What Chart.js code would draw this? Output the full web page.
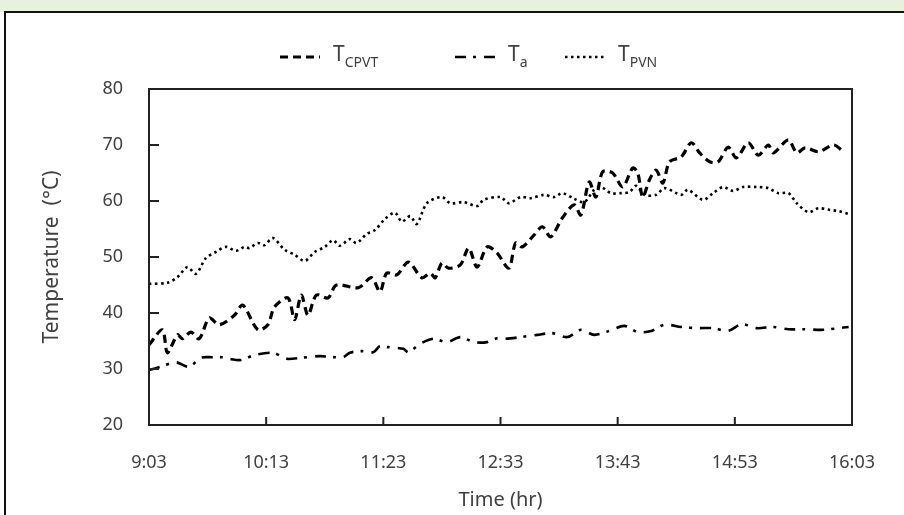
<!DOCTYPE html>
<html>
<head>
<meta charset="utf-8">
<script src="https://cdn.jsdelivr.net/npm/chart.js@4.4.0/dist/chart.umd.min.js"></script>
<style>
html,body{margin:0;padding:0;background:#fff}
</style>
</head>
<body>
<canvas id="grafTemp" width="904" height="515"></canvas>
<script>
// minutes after 9:03
let xTickLabels = ['9:03','10:13','11:23','12:33','13:43','14:53','16:03']
let yTicks = [20,30,40,50,60,70,80]

let timeCPVT = [0,8,11,17,20,25,30,36,42,51,56,65,71,75,83,87,91,95,100,107,112,125,133,138,142,148,155,163,168,171,175,179,186,191,196,202,208,215,219,223,230,235,240,247,254,258,263,267,271,277,283,289,292,295,299,303,307,311,318,324,329,335,340,346,351,358,364,370,373,382,387,392,400,409,415]
let tempCPVT = [34.3,37.0,32.9,36.1,35.4,36.6,35.4,39.1,37.9,39.6,41.4,37.0,37.9,41.1,42.7,38.8,43.2,39.6,43.2,42.7,45.0,44.5,46.3,43.8,47.1,46.8,49.1,46.3,47.1,46.3,48.9,48.0,48.6,51.6,48.2,51.8,50.7,48.0,52.5,51.8,53.9,55.4,53.6,57.0,59.3,57.5,63.4,60.7,65.2,65.0,62.5,65.9,65.0,60.7,63.8,65.5,63.2,67.0,67.9,70.4,68.6,67.0,67.0,69.6,67.7,70.4,68.2,70.0,68.6,70.9,68.6,69.5,68.8,70.0,68.8]

let timeA = [0,7,16,24,31,38,44,48,55,63,74,80,83,91,102,111,116,120,127,134,138,143,152,155,162,170,178,186,194,202,208,213,222,232,241,250,258,266,275,284,292,300,308,318,328,337,346,354,363,373,382,391,403,412,418]
let tempA = [29.8,30.4,31.2,30.4,32.0,32.1,32.1,31.8,31.6,32.5,32.9,32.1,31.8,32.0,32.3,32.1,32.1,32.9,33.2,33.0,34.1,33.9,33.6,33.0,34.5,35.4,34.8,35.7,34.8,34.8,35.5,35.4,35.7,36.1,36.4,35.7,37.0,36.1,36.8,37.7,36.6,36.8,37.9,37.5,37.3,37.3,36.8,38.0,37.3,37.5,37.1,37.1,37.0,37.3,37.5]

let timePVN = [0,11,17,23,28,34,40,46,52,57,60,65,69,74,81,87,93,99,105,110,114,120,124,130,135,141,147,151,156,160,166,175,180,188,196,200,210,215,222,228,236,242,247,254,260,266,270,276,282,287,291,296,303,308,318,322,331,337,343,349,355,363,370,376,382,387,394,400,407,412,418]
let tempPVN = [45.2,45.4,46.4,48.2,47.0,49.8,50.9,51.8,51.1,51.8,51.6,52.5,52.1,53.4,51.3,50.4,49.3,50.9,51.8,53.0,52.0,53.2,52.5,54.1,54.8,56.8,57.9,56.3,57.3,55.9,59.6,60.7,59.6,59.8,59.1,60.2,60.7,59.6,60.7,60.5,61.1,60.7,61.4,60.4,59.8,62.0,62.5,61.4,61.4,61.6,62.7,61.1,61.1,62.3,61.1,62.0,60.2,61.4,62.5,61.8,62.5,62.5,62.3,61.4,61.4,59.6,58.0,58.7,58.4,58.2,57.7]

let nombres = [['T','CPVT'],['T','a'],['T','PVN']]

const fuente = "'Noto Sans', 'DejaVu Sans', sans-serif"
const colorTexto = '#404040'

function pares(xs, ys) {
    return xs.map((x, i) => ({x: x, y: ys[i]}))
}

// marco, ticks hacia dentro y leyenda con subindices
const extras = {
    id: 'extras',
    beforeDraw(chart) {
        let ctx = chart.ctx
        ctx.save()
        ctx.fillStyle = '#ffffff'
        ctx.fillRect(0, 0, chart.width, chart.height)
        ctx.fillStyle = 'rgba(190,215,160,0.35)'
        ctx.fillRect(0, 0, chart.width, 12)
        ctx.strokeStyle = '#111'
        ctx.lineWidth = 2
        ctx.beginPath()
        ctx.moveTo(5, chart.height)
        ctx.lineTo(5, 12)
        ctx.lineTo(chart.width, 12)
        ctx.stroke()
        ctx.restore()
    },
    afterDraw(chart) {
        let ctx = chart.ctx
        let area = chart.chartArea
        let sx = chart.scales.x
        let sy = chart.scales.y
        ctx.save()
        ctx.strokeStyle = '#222'
        ctx.lineWidth = 2
        ctx.strokeRect(area.left, area.top, area.right - area.left, area.bottom - area.top)
        ctx.beginPath()
        sy.ticks.forEach(t => {
            let py = sy.getPixelForValue(t.value)
            ctx.moveTo(area.left, py)
            ctx.lineTo(area.left + 10, py)
        })
        sx.ticks.forEach(t => {
            let px = sx.getPixelForValue(t.value)
            ctx.moveTo(px, area.bottom)
            ctx.lineTo(px, area.bottom - 8)
        })
        ctx.stroke()

        // leyenda
        let posX = [280, 455, 565]
        let ly = 57
        chart.data.datasets.forEach((ds, i) => {
            let x0 = posX[i]
            ctx.strokeStyle = '#000'
            ctx.lineWidth = ds.borderWidth
            ctx.setLineDash(ds.borderDash)
            ctx.beginPath()
            ctx.moveTo(x0, ly)
            ctx.lineTo(x0 + 40, ly)
            ctx.stroke()
            ctx.setLineDash([])
            ctx.fillStyle = colorTexto
            ctx.textBaseline = 'middle'
            ctx.font = '21px ' + fuente
            let tx = x0 + 53
            ctx.fillText(nombres[i][0], tx, ly - 2)
            let w = ctx.measureText(nombres[i][0]).width
            ctx.font = '14px ' + fuente
            ctx.fillText(nombres[i][1], tx + w, ly + 6)
        })
        ctx.restore()
    }
}

let grafTemp = document.getElementById('grafTemp')

let tablaTemp = new Chart(grafTemp, {
    type: 'line',
    plugins: [extras],
    data: {
        datasets: [{
            label: 'T_CPVT',
            data: pares(timeCPVT, tempCPVT),
            borderColor: '#000',
            borderWidth: 3.2,
            borderDash: [8,5],
            pointRadius: 0,
            tension: 0.3,
        },
        {
            label: 'T_a',
            data: pares(timeA, tempA),
            borderColor: '#000',
            borderWidth: 2.6,
            borderDash: [11,7,3,8],
            pointRadius: 0,
            tension: 0.3,
        },
        {
            label: 'T_PVN',
            data: pares(timePVN, tempPVN),
            borderColor: '#000',
            borderWidth: 2.6,
            borderDash: [2.5,3.5],
            pointRadius: 0,
            tension: 0.3,
        }]
    },
    options: {
        responsive: false,
        animation: false,
        layout: {
            padding: {left: 0, top: 89, right: 52, bottom: 0},
        },
        plugins: {
            legend: {display: false},
            tooltip: {enabled: false},
        },
        scales: {
            x: {
                type: 'linear',
                min: 0,
                max: 420,
                grid: {display: false, drawTicks: false},
                border: {display: false},
                afterFit: s => { s.height = 90 },
                afterBuildTicks: s => { s.ticks = xTickLabels.map((l, i) => ({value: i * 70})) },
                ticks: {
                    padding: 27,
                    color: colorTexto,
                    font: {family: fuente, size: 18},
                    maxRotation: 0,
                    callback: (v, i) => xTickLabels[i],
                },
                title: {
                    display: true,
                    text: 'Time (hr)',
                    color: colorTexto,
                    font: {family: fuente, size: 20},
                    padding: {top: 0, bottom: 3},
                },
            },
            y: {
                min: 20,
                max: 80,
                grid: {display: false, drawTicks: false},
                border: {display: false},
                afterFit: s => { s.width = 149 },
                afterBuildTicks: s => { s.ticks = yTicks.map(v => ({value: v})) },
                ticks: {
                    padding: 26,
                    color: colorTexto,
                    font: {family: fuente, size: 18},
                },
                title: {
                    display: true,
                    text: 'Temperature  (°C)',
                    color: colorTexto,
                    font: {family: fuente, size: 21},
                    padding: {top: 39, bottom: 0},
                },
            },
        },
    },
})
</script>
</body>
</html>
